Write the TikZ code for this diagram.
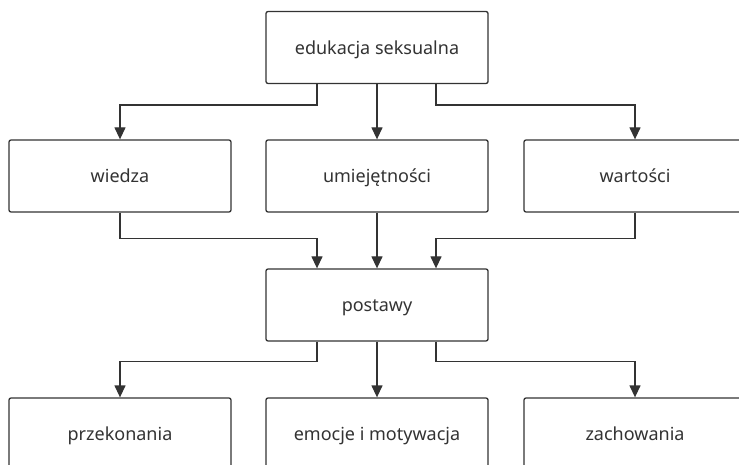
\documentclass[tikz,border=0pt]{standalone}
\usepackage{fontspec}
\setmainfont{Noto Sans}
\usetikzlibrary{arrows.meta}
\definecolor{ink}{HTML}{333333}
\begin{document}
\begin{tikzpicture}[x=1pt,y=-1pt,
  box/.style={draw=ink, line width=1.3pt, rounded corners=2pt, fill=white,
    minimum width=222pt, minimum height=72pt, inner sep=0pt,
    text height=17.4pt, text depth=4pt,
    text=ink, font=\fontsize{18}{21}\selectfont},
  link/.style={draw=ink, line width=1.3pt, -{Triangle[width=11pt,length=12pt]}}]
\useasboundingbox (0,0) rectangle (739,465);
\clip (0,0) rectangle (739,465);
\node[box] (top) at (377,47.5) {edukacja seksualna};
\node[box] (wiedza) at (120,176) {wiedza};
\node[box] (umiej) at (377,176) {umiejętności};
\node[box] (wart) at (635,176) {wartości};
\node[box] (post) at (377,305) {postawy};
\node[box] (przek) at (120,434) {przekonania};
\node[box] (emoc) at (377,434) {emocje i motywacja};
\node[box] (zach) at (635,434) {zachowania};
% branches from the top box
\draw[link] ([xshift=-60pt]top.south) -- ++(0,21) -| (wiedza.north);
\draw[link] (top.south) -- (umiej.north);
\draw[link] ([xshift=59pt]top.south) -- ++(0,21) -| (wart.north);
% inputs into postawy
\draw[link] (wiedza.south) -- ++(0,26) -| ([xshift=-60pt]post.north);
\draw[link] (umiej.south) -- (post.north);
\draw[link] (wart.south) -- ++(0,26) -| ([xshift=59pt]post.north);
% outputs of postawy
\draw[link] ([xshift=-60pt]post.south) -- ++(0,20) -| (przek.north);
\draw[link] (post.south) -- (emoc.north);
\draw[link] ([xshift=59pt]post.south) -- ++(0,20) -| (zach.north);
\end{tikzpicture}
\end{document}
